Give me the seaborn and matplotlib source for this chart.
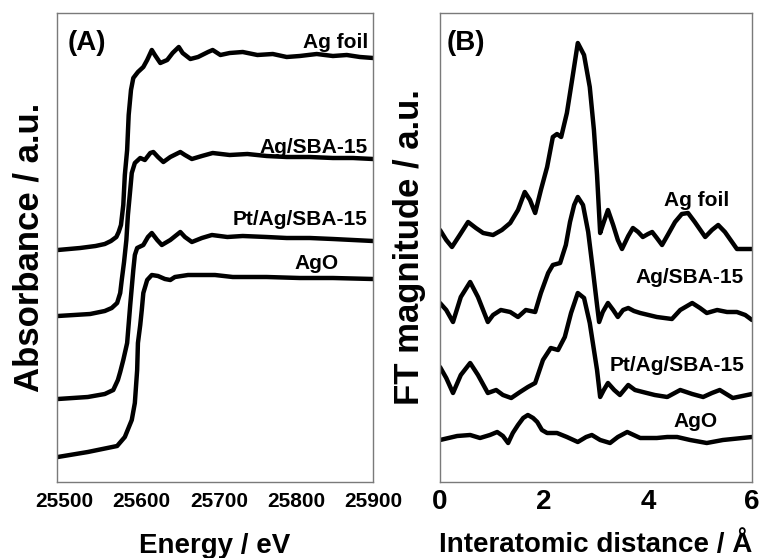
import numpy as np
import pandas as pd
import matplotlib
matplotlib.use("Agg")
import matplotlib.pyplot as plt
import seaborn as sns

# ---- (A) XANES : energy (eV) vs absorbance (a.u.) ----
ag_foil_E = [25491, 25520, 25540, 25552, 25560, 25567, 25570, 25573, 25576, 25578,
             25581, 25583, 25586, 25589, 25595, 25602, 25607, 25613, 25617, 25624,
             25633, 25640, 25648, 25653, 25663, 25673, 25686, 25692, 25702, 25714,
             25731, 25750, 25770, 25788, 25805, 25827, 25848, 25866, 25883, 25900]
ag_foil_A = [2.32, 2.34, 2.36, 2.38, 2.41, 2.45, 2.50, 2.57, 2.77, 3.07,
             3.32, 3.67, 3.92, 4.04, 4.10, 4.15, 4.22, 4.32, 4.27, 4.19,
             4.22, 4.29, 4.35, 4.29, 4.23, 4.25, 4.30, 4.32, 4.27, 4.29,
             4.30, 4.27, 4.28, 4.25, 4.26, 4.28, 4.26, 4.27, 4.25, 4.24]

ag_sba_E = [25491, 25533, 25552, 25561, 25568, 25572, 25574, 25577, 25580, 25582,
            25585, 25587, 25591, 25598, 25604, 25611, 25615, 25621, 25628, 25637,
            25650, 25656, 25665, 25678, 25692, 25714, 25737, 25762, 25788, 25818,
            25848, 25874, 25900]
ag_sba_A = [1.66, 1.68, 1.71, 1.74, 1.79, 1.89, 2.02, 2.20, 2.42, 2.67,
            2.92, 3.09, 3.19, 3.24, 3.22, 3.29, 3.30, 3.25, 3.20, 3.25,
            3.30, 3.27, 3.23, 3.26, 3.29, 3.27, 3.28, 3.26, 3.25, 3.25,
            3.24, 3.24, 3.23]

ptag_sba_E = [25491, 25530, 25552, 25563, 25569, 25572, 25576, 25581, 25585, 25589,
              25591, 25594, 25602, 25608, 25613, 25620, 25626, 25637, 25650, 25656,
              25665, 25678, 25691, 25711, 25731, 25762, 25788, 25818, 25848, 25874,
              25900]
ptag_sba_A = [0.83, 0.85, 0.88, 0.92, 1.02, 1.10, 1.22, 1.39, 1.77, 2.12,
              2.27, 2.34, 2.37, 2.45, 2.49, 2.42, 2.37, 2.42, 2.50, 2.45,
              2.40, 2.44, 2.47, 2.45, 2.46, 2.45, 2.44, 2.44, 2.43, 2.42,
              2.41]

ago_E = [25491, 25530, 25568, 25578, 25587, 25591, 25594, 25595, 25598, 25600,
         25602, 25607, 25613, 25621, 25630, 25637, 25643, 25660, 25695, 25718,
         25762, 25805, 25848, 25900]
ago_A = [0.25, 0.30, 0.36, 0.45, 0.62, 0.79, 1.12, 1.39, 1.57, 1.72,
         1.89, 2.02, 2.07, 2.06, 2.03, 2.02, 2.05, 2.07, 2.07, 2.05,
         2.05, 2.04, 2.04, 2.03]

# ---- (B) FT : R (Angstrom) vs magnitude (a.u.) ----
ag_foil_R = [0.00, 0.12, 0.23, 0.38, 0.54, 0.69, 0.83, 1.02, 1.19, 1.35,
             1.50, 1.63, 1.73, 1.83, 1.94, 2.06, 2.17, 2.25, 2.33, 2.44,
             2.54, 2.65, 2.77, 2.88, 2.96, 3.02, 3.08, 3.15, 3.23, 3.33,
             3.42, 3.50, 3.62, 3.71, 3.81, 3.90, 4.00, 4.08, 4.17, 4.27,
             4.38, 4.52, 4.65, 4.77, 4.90, 5.10, 5.23, 5.35, 5.48, 5.71, 6.00]
ag_foil_F = [2.52, 2.42, 2.35, 2.47, 2.60, 2.54, 2.49, 2.47, 2.52, 2.59,
             2.72, 2.90, 2.82, 2.69, 2.92, 3.15, 3.45, 3.48, 3.45, 3.69,
             4.02, 4.39, 4.27, 3.95, 3.52, 3.07, 2.49, 2.60, 2.72, 2.57,
             2.42, 2.33, 2.46, 2.54, 2.50, 2.45, 2.48, 2.50, 2.44, 2.37,
             2.47, 2.60, 2.68, 2.69, 2.60, 2.45, 2.52, 2.57, 2.50, 2.33, 2.33]

ag_sba_R = [0.00, 0.12, 0.25, 0.40, 0.58, 0.73, 0.92, 1.02, 1.17, 1.35,
            1.50, 1.65, 1.83, 1.94, 2.08, 2.17, 2.31, 2.42, 2.50, 2.58,
            2.65, 2.75, 2.85, 2.94, 3.02, 3.06, 3.13, 3.23, 3.33, 3.42,
            3.52, 3.62, 3.73, 3.85, 4.17, 4.46, 4.62, 4.85, 5.00, 5.13,
            5.33, 5.52, 5.71, 5.87, 6.00]
ag_sba_F = [1.79, 1.72, 1.60, 1.85, 2.00, 1.85, 1.60, 1.67, 1.72, 1.70,
            1.65, 1.72, 1.70, 1.89, 2.09, 2.17, 2.19, 2.37, 2.60, 2.77,
            2.85, 2.77, 2.50, 2.12, 1.77, 1.60, 1.70, 1.79, 1.72, 1.65,
            1.72, 1.74, 1.71, 1.69, 1.65, 1.63, 1.72, 1.79, 1.74, 1.69,
            1.72, 1.70, 1.70, 1.67, 1.62]

ptag_sba_R = [0.00, 0.12, 0.25, 0.40, 0.58, 0.73, 0.92, 1.08, 1.21, 1.37,
              1.54, 1.69, 1.83, 1.98, 2.13, 2.27, 2.40, 2.52, 2.65, 2.77,
              2.88, 3.02, 3.08, 3.15, 3.23, 3.35, 3.46, 3.62, 3.75, 3.90,
              4.13, 4.37, 4.62, 4.85, 5.06, 5.23, 5.38, 5.63, 6.00]
ptag_sba_F = [1.15, 1.04, 0.89, 1.07, 1.19, 1.07, 0.89, 0.92, 0.87, 0.84,
              0.90, 0.95, 0.99, 1.22, 1.34, 1.32, 1.45, 1.69, 1.89, 1.84,
              1.59, 1.12, 0.85, 0.92, 0.99, 0.92, 0.87, 0.97, 0.92, 0.90,
              0.87, 0.85, 0.92, 0.88, 0.85, 0.89, 0.92, 0.84, 0.88]

ago_R = [0.00, 0.33, 0.58, 0.77, 0.96, 1.10, 1.21, 1.31, 1.40, 1.50,
         1.60, 1.69, 1.79, 1.87, 1.96, 2.06, 2.25, 2.44, 2.65, 2.81,
         2.92, 3.08, 3.27, 3.42, 3.60, 3.85, 4.17, 4.37, 4.56, 4.81,
         5.13, 5.44, 6.00]
ago_F = [0.42, 0.46, 0.47, 0.44, 0.47, 0.50, 0.46, 0.39, 0.49, 0.57,
         0.64, 0.67, 0.64, 0.60, 0.52, 0.49, 0.49, 0.45, 0.40, 0.45,
         0.47, 0.42, 0.39, 0.45, 0.50, 0.44, 0.44, 0.45, 0.45, 0.42,
         0.39, 0.42, 0.45]

names = ["Ag foil", "Ag/SBA-15", "Pt/Ag/SBA-15", "AgO"]

sns.set_style("white")
plt.rcParams['font.family'] = ['Liberation Sans', 'DejaVu Sans']
plt.rcParams['font.weight'] = 'bold'
plt.rcParams['text.color'] = 'black'
plt.rcParams['axes.labelcolor'] = 'black'
plt.rcParams['xtick.color'] = 'black'

fig = plt.figure(figsize=(7.6, 5.58), dpi=100)
axA = fig.add_axes([57/760, 1 - 482/558, 316/760, 469/558])
axB = fig.add_axes([440/760, 1 - 482/558, 312/760, 469/558])

xanes = [(ag_foil_E, ag_foil_A), (ag_sba_E, ag_sba_A), (ptag_sba_E, ptag_sba_A), (ago_E, ago_A)]
ft = [(ag_foil_R, ag_foil_F), (ag_sba_R, ag_sba_F), (ptag_sba_R, ptag_sba_F), (ago_R, ago_F)]

for x, y in xanes:
    sns.lineplot(x=x, y=y, ax=axA, color="black", lw=3.2, sort=False, estimator=None)
for x, y in ft:
    sns.lineplot(x=x, y=y, ax=axB, color="black", lw=3.2, sort=False, estimator=None)

for line in axA.lines + axB.lines:
    line.set_solid_joinstyle("round")
    line.set_solid_capstyle("round")

axA.set_xlim(25490, 25900)
axA.set_ylim(0, 4.69)
axA.set_xticks([25500, 25600, 25700, 25800, 25900])
axB.set_xlim(0, 6)
axB.set_ylim(0, 4.69)
axB.set_xticks([0, 2, 4, 6])

for ax in (axA, axB):
    ax.set_yticks([])
    for s in ax.spines.values():
        s.set_color("#7a7a7a")
        s.set_linewidth(1.0)

axA.tick_params(axis="x", direction="out", length=3, color="#7a7a7a", labelcolor="black", labelsize=15, pad=4)
axB.tick_params(axis="x", direction="out", length=3, color="#7a7a7a", labelcolor="black", labelsize=20, pad=2)

axA.set_xlabel("Energy / eV", fontsize=20, fontweight="bold", labelpad=16)
axA.set_ylabel("Absorbance / a.u.", fontsize=25, fontweight="bold", labelpad=8)
axB.set_xlabel("Interatomic distance / Å", fontsize=20, fontweight="bold", labelpad=12)
axB.set_ylabel("FT magnitude / a.u.", fontsize=25, fontweight="bold", labelpad=10)

axA.text(0.035, 0.936, "(A)", transform=axA.transAxes, fontsize=20, fontweight="bold", va="center", ha="left")
axB.text(0.022, 0.936, "(B)", transform=axB.transAxes, fontsize=20, fontweight="bold", va="center", ha="left")

# sample labels
posA = [(0.984, 0.938, "right"), (0.984, 0.714, "right"), (0.984, 0.559, "right"), (0.82, 0.465, "center")]
posB = [(0.824, 0.600, "center"), (0.80, 0.437, "center"), (0.76, 0.249, "center"), (0.818, 0.128, "center")]
for (x, y, ha), name in zip(posA, names):
    axA.text(x, y, name, transform=axA.transAxes, fontsize=15, fontweight="bold", va="center", ha=ha)
for (x, y, ha), name in zip(posB, names):
    axB.text(x, y, name, transform=axB.transAxes, fontsize=15, fontweight="bold", va="center", ha=ha)

fig.savefig("out.png", dpi=100)
